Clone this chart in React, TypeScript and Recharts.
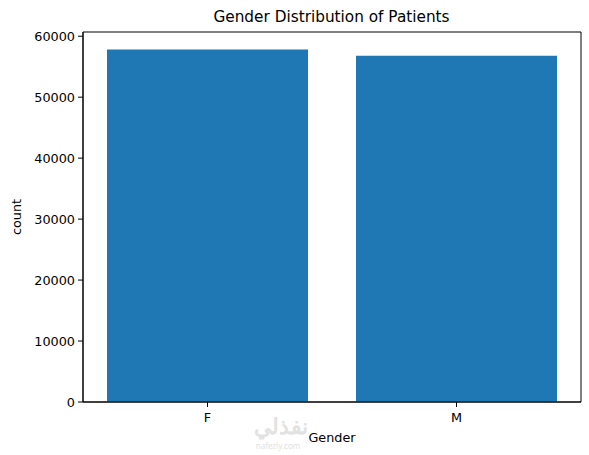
import { BarChart, Bar, XAxis, YAxis, ReferenceArea } from "recharts";

// Gender counts
const genders = ["F", "M"];
const counts = [57800, 56800];
const yTicks = [0, 10000, 20000, 30000, 40000, 50000, 60000];
const yMax = 60690;

const data = genders.map((g, i) => ({ gender: g, count: counts[i] }));

const FONT = "'DejaVu Sans', sans-serif";
const tickStyle = { fontSize: 12.8, fill: "#000", fontFamily: FONT };

export default function App() {
  return (
    <div style={{ position: "absolute", left: 0, top: 0, width: 589, height: 455, background: "#fff" }}>
      <div
        style={{
          position: "absolute",
          top: 8,
          width: 589,
          left: 37,
          textAlign: "center",
          fontFamily: FONT,
          fontSize: 15.3,
          color: "#000",
        }}
      >
        Gender Distribution of Patients
      </div>
      <BarChart
        width={589}
        height={455}
        data={data}
        margin={{ top: 32, right: 8, left: 0, bottom: 0 }}
        barSize={201}
      >
        <XAxis
          dataKey="gender"
          height={53}
          stroke="#000"
          tickSize={5}
          tickMargin={6}
          tick={tickStyle}
          label={{ value: "Gender", position: "insideBottom", offset: 13, style: { fontSize: 12.8, fill: "#000", fontFamily: FONT } }}
        />
        <YAxis
          width={83}
          domain={[0, yMax]}
          ticks={yTicks}
          stroke="#000"
          tickSize={5}
          tickMargin={3}
          tick={tickStyle}
          label={{ value: "count", angle: -90, position: "insideLeft", offset: 16, style: { fontSize: 12.8, fill: "#000", fontFamily: FONT, textAnchor: "middle" } }}
        />
        <Bar dataKey="count" fill="#1f77b4" isAnimationActive={false} />
        <ReferenceArea y1={0} y2={yMax} fill="none" stroke="#000" strokeWidth={1} ifOverflow="extendDomain" />
      </BarChart>
      <div
        style={{
          position: "absolute",
          left: 254,
          top: 414,
          width: 48,
          fontFamily: "'Noto Sans', sans-serif",
          color: "#e2e2e2",
          textAlign: "center",
          lineHeight: 1,
        }}
      >
        <div style={{ fontSize: 22, fontWeight: 700 }}>نفذلي</div>
        <div style={{ fontSize: 8, marginTop: 6 }}>nafezly.com</div>
      </div>
    </div>
  );
}
